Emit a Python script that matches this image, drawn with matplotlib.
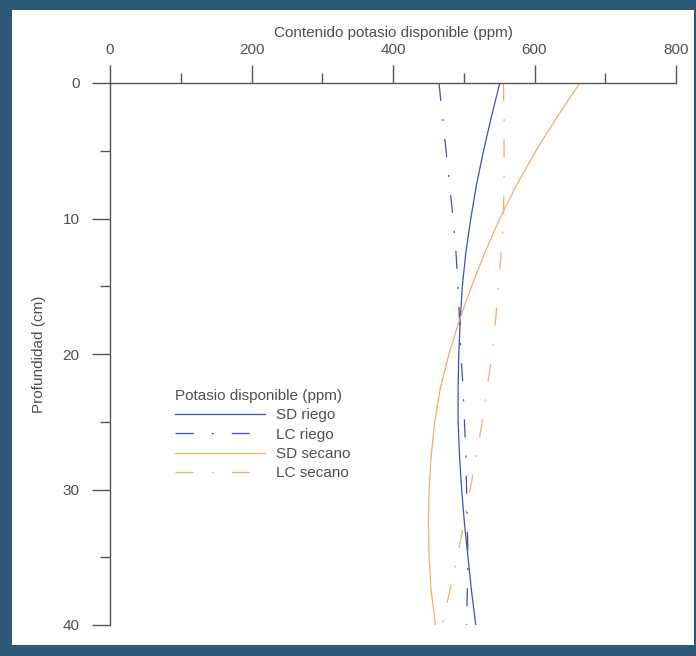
import numpy as np
import matplotlib
matplotlib.use("Agg")
import matplotlib.pyplot as plt
from matplotlib.patches import Rectangle
from matplotlib.ticker import MultipleLocator

# Depth (cm) and available potassium (ppm)
depth = [0, 2.5, 5, 7.5, 10, 12.5, 15, 17.5, 20, 22.5, 25, 27.5, 30, 32.5, 35, 37.5, 40]
sd_riego = [551, 539, 528, 518, 510, 503, 498, 495, 493, 492, 492, 494, 497, 501, 506, 511, 517]
lc_riego = [465, 470, 475, 480, 485, 489, 492, 494, 496, 499, 501, 503, 504, 505, 506, 505, 504]
sd_secano = [664, 632, 602, 575, 551, 530, 511, 494, 479, 467, 459, 454, 451, 450, 451, 454, 460]
lc_secano = [556, 557, 557, 557, 556, 553, 549, 545, 540, 533, 526, 518, 509, 500, 491, 480, 470]

plt.rcParams['font.family'] = ['Liberation Sans', 'DejaVu Sans']
plt.rcParams['lines.scale_dashes'] = False

blue = '#4152ad'
orange = '#f4ad68'
grey = '#555555'
txt = '#4f4f4f'
dashdot = (0, (13, 13, 1.5, 13))

fig = plt.figure(figsize=(6.96, 6.56), dpi=100, facecolor='#2d5878')
# white card inside the dark frame
fig.patches.append(Rectangle((12 / 696, 11 / 656), 682 / 696, 635 / 656,
                             transform=fig.transFigure, facecolor='white',
                             edgecolor='none', zorder=-10))
ax = fig.add_axes([110 / 696, 1 - 625 / 656, 566 / 696, 542 / 656])
ax.set_facecolor('none')

ax.plot(sd_riego, depth, color=blue, lw=0.9, label='SD riego')
ax.plot(lc_riego, depth, color=blue, lw=0.9, linestyle=dashdot, label='LC riego')
ax.plot(sd_secano, depth, color=orange, lw=0.9, label='SD secano')
ax.plot(lc_secano, depth, color=orange, lw=0.9, linestyle=dashdot, label='LC secano')

ax.set_xlim(0, 800)
ax.set_ylim(40, 0)
ax.xaxis.set_major_locator(MultipleLocator(200))
ax.xaxis.set_minor_locator(MultipleLocator(100))
ax.yaxis.set_major_locator(MultipleLocator(10))
ax.yaxis.set_minor_locator(MultipleLocator(5))
ax.xaxis.tick_top()
ax.xaxis.set_label_position('top')

for s in ['right', 'bottom']:
    ax.spines[s].set_visible(False)
for s in ['top', 'left']:
    ax.spines[s].set_color(grey)
    ax.spines[s].set_linewidth(1.0)

ax.tick_params(axis='x', which='major', length=13, width=1.0, color=grey,
               labelcolor=txt, labelsize=11, pad=6)
ax.tick_params(axis='y', which='major', length=13, width=1.0, color=grey,
               labelcolor=txt, labelsize=11, pad=9)
ax.tick_params(axis='both', which='minor', length=7, width=1.0, color=grey)

ax.set_xlabel('Contenido potasio disponible (ppm)', fontsize=11, color=txt, labelpad=4)
ax.set_ylabel('Profundidad (cm)', fontsize=11, color=txt, labelpad=12)

leg = ax.legend(title='Potasio disponible (ppm)', loc='upper left',
                bbox_to_anchor=(175 / 696, 1 - 389 / 656), bbox_transform=fig.transFigure,
                frameon=False, fontsize=11, title_fontsize=11, alignment='left',
                handlelength=5.9, handletextpad=0.7, labelspacing=0.35, borderpad=0,
                borderaxespad=0)
for t in leg.get_texts():
    t.set_color(txt)
leg.get_title().set_color(txt)

fig.savefig('out.png', dpi=100, facecolor=fig.get_facecolor())
